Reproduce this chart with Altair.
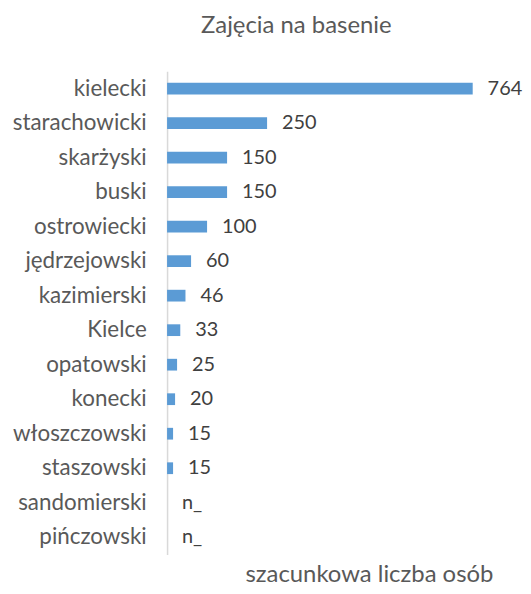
import altair as alt
import pandas as pd

categories = ["kielecki", "starachowicki", "skarżyski", "buski", "ostrowiecki",
              "jędrzejowski", "kazimierski", "Kielce", "opatowski", "konecki",
              "włoszczowski", "staszowski", "sandomierski", "pińczowski"]
values = [764, 250, 150, 150, 100, 60, 46, 33, 25, 20, 15, 15, 0, 0]
labels = ["764", "250", "150", "150", "100", "60", "46", "33", "25", "20", "15", "15", "n_", "n_"]

df = pd.DataFrame({"kategoria": categories, "wartosc": values, "etykieta": labels})

FONT = "Lato"
GREY = "#595959"
DARK = "#404040"

y = alt.Y("kategoria:N", sort=categories, title=None,
          scale=alt.Scale(paddingInner=0.66, paddingOuter=0.33),
          axis=alt.Axis(ticks=False, labelPadding=21, labelFontSize=22.5, labelFont=FONT,
                        labelColor=GREY, domainColor="#d9d9d9", domainWidth=1.5))
x = alt.X("wartosc:Q", scale=alt.Scale(domain=[0, 845], nice=False),
          title="szacunkowa liczba osób",
          axis=alt.Axis(labels=False, ticks=False, domain=False, grid=False,
                        titleFont=FONT, titleFontSize=24, titleFontWeight="normal",
                        titleColor=GREY, titlePadding=8, titleX=203))

bars = alt.Chart(df).mark_bar(color="#5B9BD5").encode(x=x, y=y)
text = alt.Chart(df).mark_text(align="left", dx=15, font=FONT, fontSize=20, color=DARK).encode(
    x=x, y=y, text="etykieta:N")

chart = (bars + text).properties(
    width=340, height=486,
    padding={"left": 4, "top": 4, "right": 0, "bottom": 0},
    title=alt.TitleParams("Zajęcia na basenie", font=FONT, fontSize=24, fontWeight="normal",
                          color=GREY, anchor="middle", offset=38, dx=-40, dy=4)
).configure_view(stroke=None)

chart.save("out.html", embed_options={"renderer": "svg", "actions": False})
